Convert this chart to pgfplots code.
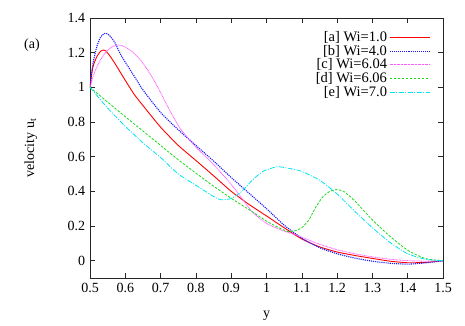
\documentclass[border=0pt]{standalone}
\usepackage{pgfplots}
\pgfplotsset{compat=1.18}
\usepackage{fontspec}
\setmainfont{Liberation Serif}
\definecolor{gpred}{rgb}{1,0,0}
\definecolor{gpblue}{rgb}{0.1,0.1,1}
\definecolor{gpgreen}{rgb}{0.1,0.85,0.1}
\definecolor{gpmag}{rgb}{1,0.35,1}
\definecolor{gpcyan}{rgb}{0,0.9,0.95}
\begin{document}
\fontsize{14}{16}\selectfont
\begin{tikzpicture}[x=1pt,y=1pt]
\path[use as bounding box] (-90pt,-48pt) rectangle (375pt,278pt);
\begin{axis}[
  at={(0,0)}, anchor=south west,
  scale only axis, width=353pt, height=260pt,
  xmin=0.5, xmax=1.5, ymin=-0.1, ymax=1.4,
  xtick={0.5,0.6,...,1.5}, ytick={0,0.2,...,1.4},
  xticklabels={0.5,0.6,0.7,0.8,0.9,1,1.1,1.2,1.3,1.4,1.5},
  yticklabels={0,0.2,0.4,0.6,0.8,1,1.2,1.4},
  tick align=inside, major tick length=5pt,
  axis line style={line width=0.8pt, black!85},
  every tick/.style={black!85, line width=0.6pt},
  /pgf/number format/assume math mode=true,
  tick label style={font=\fontsize{14}{16}\selectfont},
  xlabel={y}, ylabel={velocity u$_{\mathrm{t}}$},
  xlabel style={at={(axis description cs:0.5,-0.152)}, anchor=base},
  ylabel style={at={(axis description cs:-0.168,0.5)}, anchor=center},
  label style={font=\fontsize{14}{16}\selectfont},
  legend style={draw=none, fill=none, at={(axis cs:1.464,1.335)}, anchor=north east,
    font=\fontsize{14.5}{16}\selectfont, row sep=-2.5pt, inner sep=0pt,
    /tikz/every even column/.append style={column sep=5pt}},
  legend cell align=right, legend plot pos=right,
  legend image code/.code={\draw[#1] (0pt,0pt) -- (40pt,0pt);},
  clip=true,
]
\addplot[color=gpred, line width=0.9pt, smooth, tension=0.35] coordinates {
(0.5,1.0)(0.505,1.08)(0.51,1.13)(0.52,1.18)(0.53,1.208)(0.537,1.215)(0.545,1.21)(0.555,1.185)(0.57,1.14)(0.585,1.09)(0.6,1.04)(0.625,0.96)(0.65,0.895)(0.7,0.77)(0.75,0.665)(0.8,0.578)(0.85,0.49)(0.9,0.40)(0.95,0.325)(1.0,0.258)(1.05,0.19)(1.1,0.125)(1.15,0.08)(1.2,0.05)(1.25,0.03)(1.3,0.013)(1.35,-0.003)(1.4,-0.012)(1.45,-0.01)(1.5,0.0)};
\addlegendentry{[a] Wi=1.0}
\addplot[color=gpblue, line width=1.1pt, dash pattern=on 1.1pt off 1pt, smooth, tension=0.35] coordinates {
(0.5,1.0)(0.505,1.09)(0.51,1.155)(0.52,1.24)(0.53,1.29)(0.54,1.31)(0.545,1.312)(0.555,1.30)(0.57,1.26)(0.585,1.196)(0.6,1.145)(0.625,1.065)(0.65,0.985)(0.7,0.855)(0.75,0.755)(0.8,0.665)(0.85,0.575)(0.9,0.48)(0.95,0.39)(1.0,0.30)(1.05,0.205)(1.1,0.13)(1.15,0.075)(1.2,0.04)(1.25,0.015)(1.3,-0.003)(1.35,-0.015)(1.4,-0.02)(1.45,-0.013)(1.5,0.0)};
\addlegendentry{[b] Wi=4.0}
\addplot[color=gpmag, line width=0.8pt, dash pattern=on 0.8pt off 0.6pt, smooth, tension=0.35] coordinates {
(0.5,1.0)(0.51,1.07)(0.52,1.12)(0.53,1.16)(0.54,1.19)(0.55,1.213)(0.56,1.23)(0.57,1.24)(0.58,1.244)(0.59,1.241)(0.6,1.232)(0.62,1.205)(0.64,1.165)(0.66,1.11)(0.68,1.045)(0.7,0.97)(0.72,0.89)(0.74,0.815)(0.76,0.75)(0.8,0.655)(0.85,0.555)(0.9,0.44)(0.93,0.36)(0.96,0.28)(1.0,0.215)(1.04,0.178)(1.08,0.15)(1.1,0.135)(1.15,0.095)(1.2,0.063)(1.25,0.04)(1.3,0.022)(1.35,0.008)(1.4,0.0)(1.45,-0.003)(1.5,0.0)};
\addlegendentry{[c] Wi=6.04}
\addplot[color=gpgreen, line width=0.8pt, dash pattern=on 2.5pt off 1.5pt, smooth, tension=0.35] coordinates {
(0.5,1.0)(0.55,0.915)(0.6,0.83)(0.65,0.748)(0.7,0.665)(0.75,0.582)(0.8,0.505)(0.85,0.43)(0.9,0.36)(0.95,0.295)(1.0,0.228)(1.03,0.195)(1.06,0.168)(1.08,0.172)(1.1,0.19)(1.12,0.235)(1.14,0.31)(1.16,0.37)(1.18,0.40)(1.2,0.41)(1.22,0.398)(1.25,0.345)(1.3,0.235)(1.35,0.14)(1.4,0.06)(1.45,0.012)(1.5,0.0)};
\addlegendentry{[d] Wi=6.06}
\addplot[color=gpcyan, line width=0.8pt, dash pattern=on 5pt off 1.5pt on 1pt off 1.5pt, smooth, tension=0.35] coordinates {
(0.5,1.0)(0.55,0.88)(0.6,0.775)(0.65,0.68)(0.7,0.595)(0.75,0.50)(0.8,0.435)(0.85,0.37)(0.87,0.352)(0.9,0.358)(0.93,0.40)(0.96,0.465)(0.99,0.515)(1.03,0.542)(1.07,0.53)(1.1,0.515)(1.15,0.465)(1.2,0.385)(1.25,0.285)(1.3,0.19)(1.35,0.105)(1.4,0.04)(1.45,0.008)(1.5,0.0)};
\addlegendentry{[e] Wi=7.0}
\end{axis}
\node[anchor=center] at (-58pt,233pt) {(a)};
\end{tikzpicture}
\end{document}
